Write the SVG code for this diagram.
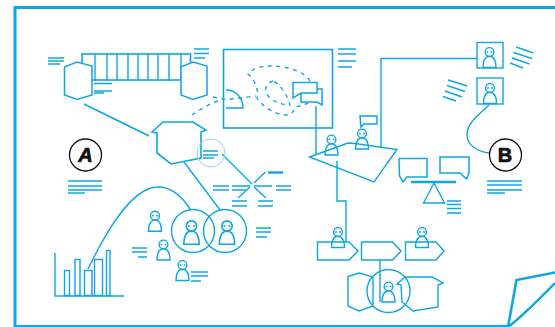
<svg xmlns="http://www.w3.org/2000/svg" width="555" height="327" viewBox="0 0 555 327">
<style>
.s{fill:none;stroke:#0ea6e6;stroke-width:1.4}
.t{fill:none;stroke:#0ea6e6;stroke-width:1.6}
.d{fill:none;stroke:#0ea6e6;stroke-width:1.4;stroke-dasharray:4 4.500}
.k{fill:none;stroke:#111;stroke-width:1.300}
.f{fill:none;stroke:#0ea6e6;stroke-width:3}
.w{fill:#fff;stroke:#0ea6e6;stroke-width:1.500}
.l{font-family:"Liberation Sans",sans-serif;font-size:20px;font-weight:700;fill:#111;stroke:#111;stroke-width:.7;stroke-linejoin:round;text-anchor:middle}
</style>
<defs>
<g id="p" class="s">
<circle cx="0" cy="0" r="4.400"/>
<path d="M-3 0H-1.200M1.200 0H3"/>
<path d="M-6.500 15.500H6.500C6.500 9 4 5.500 2 4.500H-2C-4 5.500-6.500 9-6.500 15.500Z"/>
</g>
</defs>
<g id="frame">
<path class="f" d="M555 7.500H15V326.500H508"/>
<path class="f" style="stroke-width:2.600" d="M508 327L516.500 280L555 272.500"/>
<path class="f" style="stroke-width:2.400" d="M508 327C525 314 540 298 555 283"/>
</g>
<g id="connectors">
<path class="f" style="stroke-width:1.800" d="M84 104L149 136"/>
<path class="s" d="M184 162L220 210"/>
<path class="s" d="M222 154L252 184"/>
<path class="s" d="M265.500 172L254 183M250 187L238 198M254 187L266 198"/>
<path class="s" d="M88 269C103 238 130 187 158 187C173 187 183 198 190 209"/>
<path class="d" d="M192 115C200 110 210 103 218 101"/>
<path class="d" d="M213 97L226 99.500C235 99 245 97 256 96"/>
<path class="d" d="M310 81C303 70 285 66 270 66C260 66 252 69 248 74C255 80 259 90 257 98C262 106 272 112 281 114.500C288 116 294 114 295 107C300 106 304 105 308 103"/>
<path class="d" d="M273 81C265 83 263 92 270 98C276 103 284 105 290 105C289 99 281 84 273 81Z"/>
<path class="s" d="M316 106V155"/>
<path class="s" d="M381 147V58.500H477"/>
<path class="s" d="M337 161V201H346V242"/>
<path class="s" d="M489 105C478 115 466 124 467 136C468 147 480 152 489 153"/>
</g>
<g id="conveyor">
<rect class="t" x="82" y="54" width="108.500" height="26"/>
<path class="s" d="M95 54V81M107 54V81M117 54V81M128 54V81M138 54V81M148 54V81M158 54V81M169 54V81M181 54V81"/>
</g>
<g id="hex-left"><path class="w" d="M64.500 67L77 62L92 66V95L77 99.500L64.500 95Z"/></g>
<g id="hex-right"><path class="w" d="M181 67L193 62L207 66V95L193 99.500L181 95Z"/></g>
<g id="notes-top" class="s">
<path d="M48 58H64M48 61H64M48 64H60"/>
<path d="M194 49H209M194 53.500H209M194 58H205"/>
<path d="M94 83.500H112M94 91H112M94 93H104"/>
<path d="M338 49H356M338 54H356M338 61H356M338 67H352"/>
</g>
<g id="house">
<path class="t" d="M152 132L163 122H193L206 130L201 132V158L171 164L157 153V133Z"/>
<circle cx="211" cy="153" r="14" fill="none" stroke="#8fd6f3" stroke-width="1"/>
<path class="s" d="M203 151H218M203 155H218M203 158H214"/>
</g>
<g id="badge-a">
<circle class="k" cx="85.500" cy="155" r="16"/>
<text class="l" x="85.500" y="162" font-style="italic">A</text>
<path class="s" d="M68 181H102M68 186H102M68 190H102M68 193H85"/>
</g>
<g id="window">
<rect class="t" x="223.500" y="49.500" width="109" height="78.500"/>
<path class="s" d="M226 90C236 90 243 98 243 108H226"/>
<path class="w" d="M301 93V102H317L322 105V89H316"/>
<path class="w" d="M293 82.500H317V93H301L293 98Z"/>
</g>
<g id="table">
<path class="s" d="M309.500 157L348 143L355 143.500L397 149.500L374 182Z"/>
<use href="#p" x="331.500" y="139.500"/>
<use href="#p" x="362" y="133.500"/>
<path class="w" d="M360 116H377V124H364L361 127Z"/>
</g>
<g id="star-notes" class="s">
<path d="M213 186H229M213 190H229"/>
<path d="M232 186H250M232 190H246M254 186H272"/>
<path d="M232 201H247M232 206H247M258 201H273M258 206H273"/>
<path class="t" style="stroke-width:2.400" d="M268 172.500H283"/>
<path d="M276 186H291M276 190H291"/>
</g>
<g id="avatar-top">
<rect class="s" x="477" y="42.500" width="26" height="25.500"/>
<use href="#p" x="489.500" y="52"/>
<path class="s" d="M516 47L533.500 53M513.500 52.500L532 58.500M512 58L529.500 64M510 63L523 68"/>
</g>
<g id="avatar-bottom">
<rect class="s" x="477" y="78" width="26" height="26"/>
<use href="#p" x="490" y="88"/>
<path class="s" d="M448 80L467 86M447 85.500L465 91.500M445 91L462 97M443 96.500L456 101"/>
</g>
<g id="badge-b">
<circle class="k" cx="505.500" cy="155" r="16"/>
<text class="l" x="505" y="162">B</text>
<path class="s" d="M487 181H522M487 185H522M487 190H522M487 193H505"/>
</g>
<g id="scale">
<path class="w" d="M399 158.500H427V177H407L403 182L399.500 176Z"/>
<path class="w" d="M440 157H469V173L466.500 179L460 173H440Z"/>
<path class="f" style="stroke-width:2.600" d="M411 182H456"/>
<path class="s" d="M434 183L423.500 203H444.500Z"/>
<path class="s" d="M447 201H461M447 204.500H461M447 208.500H461M447 213H461"/>
</g>
<g id="chart">
<path class="s" d="M55 253V296H124"/>
<rect class="s" x="64.500" y="270.500" width="5" height="25"/>
<rect class="s" x="75" y="259.500" width="5" height="36"/>
<rect class="s" x="84.500" y="270.500" width="7.500" height="25"/>
<rect class="s" x="94.500" y="259.500" width="8" height="36"/>
<rect class="s" x="106.500" y="250.500" width="3.500" height="45"/>
</g>
<g id="venn">
<circle class="s" cx="193" cy="231" r="21.500"/>
<circle class="s" cx="225" cy="231" r="21.500"/>
<use href="#p" transform="translate(191.500 226) scale(1.180)"/>
<use href="#p" transform="translate(227 226) scale(1.180)"/>
</g>
<g id="people-left">
<use href="#p" x="155" y="215.700"/>
<use href="#p" x="163.500" y="244.500"/>
<use href="#p" x="182.500" y="265"/>
<path class="s" d="M132 248H147M132 252H147M138 257H147"/>
<path class="s" d="M191 272H208M191 276H208M191 281H201"/>
<path class="s" d="M256 228H271M256 232H271M256 237H267"/>
</g>
<g id="arrows">
<path class="s" d="M317.500 242H349L358 251L349 260H317.500Z"/>
<path class="s" d="M361.500 242H392.500L401 251L392.500 260H361.500Z"/>
<path class="s" d="M405.500 242H436L444 251L436 260H405.500Z"/>
<use href="#p" x="338" y="232"/>
<use href="#p" x="422" y="232"/>
<path class="s" d="M380 260V302"/>
</g>
<g id="bottom-group">
<path class="s" d="M348 276.500L359 273L373 277V306L359 311L348 306Z"/>
<path class="s" d="M397 284L405 277H432L443 283L438 285V307L413 311L402 302L401 285Z"/>
<circle class="s" cx="388.500" cy="291" r="21.500"/>
<use href="#p" x="388.500" y="286.500"/>
</g>
</svg>
